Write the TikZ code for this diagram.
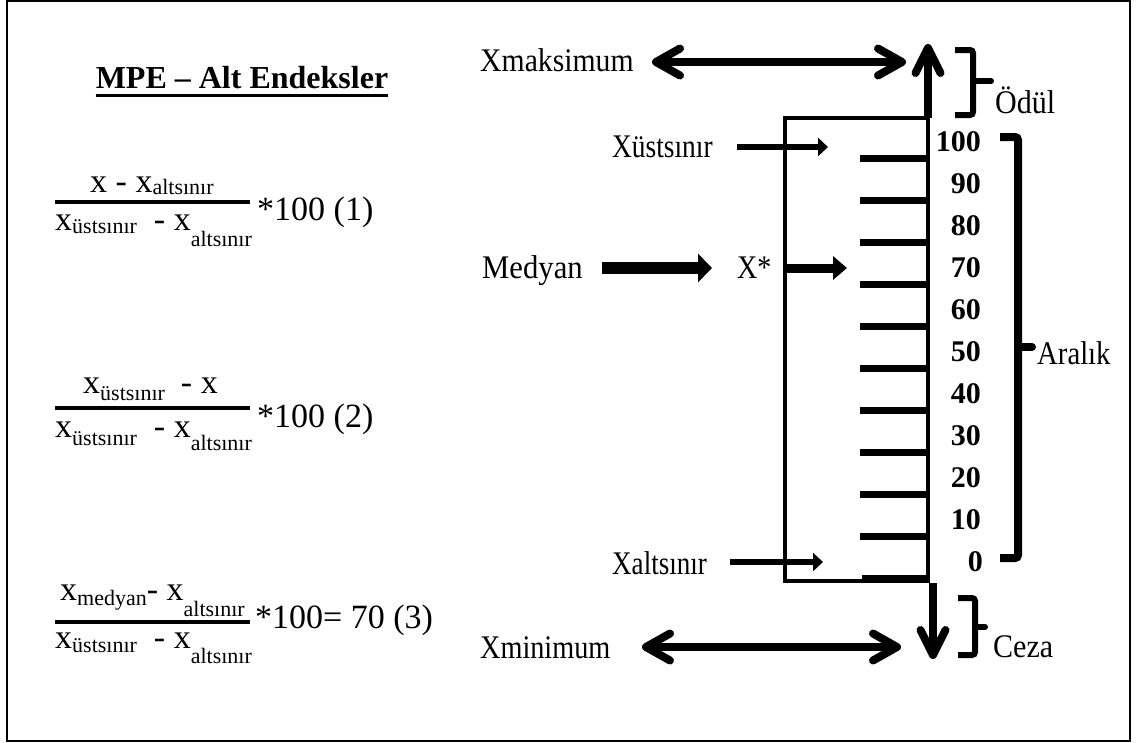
\documentclass[tikz,border=0pt]{standalone}
\usepackage{fontspec}
\setmainfont{Liberation Serif}
\usetikzlibrary{arrows.meta}
\newcommand\fsz[1]{\fontsize{#1}{#1}\selectfont}
\newcommand\fm{\fsz{34}}
\newcommand\fsb{\fsz{22}}
\newcommand\cond[2]{\scalebox{#1}[1]{#2}}
\begin{document}
\begin{tikzpicture}[x=1pt,y=-1pt,
  txt/.style={inner sep=0pt, anchor=base west, font=\fm},
  lbl/.style={inner sep=0pt, anchor=west, font=\fsz{33}},
  numlbl/.style={inner sep=0pt, anchor=east, font=\fsz{30}\bfseries},
  fracbar/.style={line width=4pt},
  dbl/.style={line width=8pt, {Straight Barb[length=24pt,width=27pt,round]}-{Straight Barb[length=24pt,width=27pt,round]}},
  vert/.style={line width=8pt, -{Straight Barb[length=25pt,width=25pt,round]}},
  tick/.style={line width=7pt},
  bracket/.style={line width=8pt, rounded corners=3pt},
  brace/.style={line width=6pt, rounded corners=3pt},
]
\useasboundingbox (0,0) rectangle (1137,742);
\draw[line width=2pt] (6.5,1) rectangle (1130,740.5);

% title
\node[inner sep=0pt, anchor=base] (title) at (242,88) {\fsz{32}\bfseries MPE – Alt Endeksler};
\draw[line width=3pt] ([yshift=-7pt]title.base west) -- ([yshift=-7pt]title.base east);

% formula 1
\draw[fracbar] (55,202) -- (250,202);
\node[txt] (f1n) at (90,192) {x - x\raisebox{-2pt}{\fsb altsınır}};
\node[txt] (f1d) at (55,230) {x\raisebox{-3pt}{\fsb üstsınır}~ - x\raisebox{-16pt}{\fsb altsınır}};
\node[txt] (f1r) at (257,220) {*100 (1)};

% formula 2
\draw[fracbar] (55,408) -- (250,408);
\node[txt] (f2n) at (83,393) {x\raisebox{-7pt}{\fsb üstsınır}\hspace{16pt}- x};
\node[txt] (f2d) at (55,437) {x\raisebox{-8pt}{\fsb üstsınır}~ - x\raisebox{-13pt}{\fsb altsınır}};
\node[txt] (f2r) at (257,427) {*100 (2)};

% formula 3
\draw[fracbar] (55,622) -- (250,622);
\node[txt] (f3n) at (60,600) {x\raisebox{-5pt}{\fsb medyan}- x\raisebox{-16pt}{\fsb altsınır}};
\node[txt] (f3d) at (55,648) {x\raisebox{-4pt}{\fsb üstsınır}~ - x\raisebox{-15pt}{\fsb altsınır}};
\node[txt] (f3r) at (255,628) {*100= 70 (3)};

% box
\coordinate (bNW) at (785,118);
\coordinate (bNE) at (928,118);
\coordinate (bSE) at (928,581);
\draw[line width=4pt] (bNW) rectangle (bSE);

% ticks
\foreach \k in {0,...,9}{
  \draw[tick] (860,158+42*\k) -- (928,158+42*\k);
}
\draw[tick] (862,578) -- (928,578);

% numbers
\foreach \v [count=\i from 0] in {100,90,80,70,60,50,40,30,20,10}{
  \node[numlbl] (n\v) at (981,142+42*\i) {\v};
}
\node[numlbl] (n0) at (983,562) {0};

% labels
\node[lbl] (xmax) at (480,60) {\cond{0.9}{Xmaksimum}};
\node[lbl] (xust) at (612,147) {\cond{0.83}{Xüstsınır}};
\node[lbl] (med) at (482,271) {\cond{0.93}{Medyan}};
\node[lbl] (xstar) at (737,268) {\cond{0.85}{X*}};
\node[lbl] (xalt) at (612,563) {\cond{0.82}{Xaltsınır}};
\node[lbl] (xmin) at (480,648) {\cond{0.855}{Xminimum}};
\node[lbl] (odul) at (995,100) {\cond{0.91}{Ödül}};
\node[lbl] (aralik) at (1037,353) {\cond{0.87}{Aralık}};
\node[lbl] (ceza) at (993,647) {\cond{0.91}{Ceza}};

% arrows
\coordinate (maxL) at (652,62);
\coordinate (maxR) at (906,62);
\draw[dbl] (maxL) -- (maxR);
\coordinate (minL) at (642,647);
\coordinate (minR) at (901,647);
\draw[dbl] (minL) -- (minR);

\coordinate (upTip) at (928,44);
\draw[vert] (bNE) -- (upTip);
\coordinate (dnStart) at (933,583);
\coordinate (dnTip) at (933,659);
\draw[vert] (dnStart) -- (dnTip);

\coordinate (medS) at (602,268);
\coordinate (medE) at (712,268);
\draw[line width=12pt, -{Triangle[length=14pt,width=28pt]}] (medS) -- (medE);

\coordinate (xsS) at (785,268);
\coordinate (xsE) at (847,268);
\draw[line width=9pt, -{Triangle[length=14pt,width=23pt]}] (xsS) -- (xsE);

\coordinate (xuS) at (737,147);
\coordinate (xuE) at (828,147);
\draw[line width=6pt, -{Triangle[length=10pt,width=18pt]}] (xuS) -- (xuE);

\coordinate (xaS) at (730,562);
\coordinate (xaE) at (823,562);
\draw[line width=6pt, -{Triangle[length=10pt,width=18pt]}] (xaS) -- (xaE);

% brackets
\draw[bracket] (1000,137) -- (1018,137) -- (1018,558) -- (1000,558);
\draw[line width=8pt, line cap=round] (1018,347) -- (1032,347);
\draw[brace] (955,50) -- (973,50) -- (973,115) -- (955,115);
\draw[line width=6pt, line cap=round] (973,81) -- (991,81);
\draw[brace] (958,598) -- (975,598) -- (975,655) -- (958,655);
\draw[line width=6pt, line cap=round] (975,627) -- (985,627);
\end{tikzpicture}
\end{document}
